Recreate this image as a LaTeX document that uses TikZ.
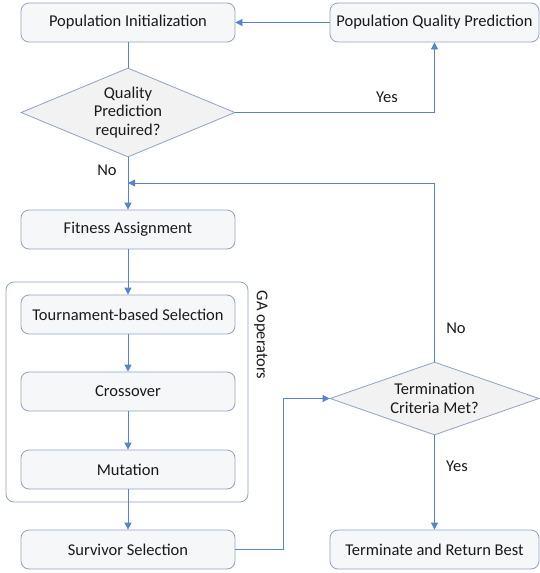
\documentclass[tikz,border=0pt]{standalone}
\usepackage{fontspec}
\setmainfont{Carlito}
\usetikzlibrary{shapes.geometric,arrows.meta}
\definecolor{boxline}{HTML}{8FA2C2}
\definecolor{boxfill}{HTML}{F6F7F9}
\definecolor{diafill}{HTML}{F2F2F3}
\definecolor{arrowc}{HTML}{5583CF}
\definecolor{txt}{HTML}{1A1A1A}
\begin{document}
\begin{tikzpicture}[x=1pt,y=-1pt,
  font=\fontsize{16.5}{18.5}\selectfont, text=txt,
  procbox/.style={draw=boxline, fill=boxfill, line width=0.8pt, rounded corners=8pt,
    minimum width=214pt, minimum height=39pt, inner sep=0pt},
  decide/.style={draw=boxline, fill=diafill, line width=0.8pt, diamond, inner sep=0pt,
    align=center},
  flow/.style={draw=arrowc, line width=0.8pt, -{Triangle[length=7pt,width=7pt]}},
  plain/.style={draw=arrowc, line width=0.8pt},
  lbl/.style={inner sep=0pt}]
\useasboundingbox (0,0) rectangle (540,573);
% group box
\node[draw=boxline, line width=0.8pt, rounded corners=8pt, minimum width=242pt, minimum height=220pt, inner sep=0pt] (ga) at (127,392) {};
\node[lbl, rotate=-90] (galbl) at (261,335) {GA operators};
% nodes
\node[procbox] (init) at (128,22.5) {Population Initialization};
\node[procbox, minimum width=209pt] (pqp) at (434.5,22.5) {Population Quality Prediction};
\node[decide, aspect=2.4, minimum width=214pt, minimum height=89pt] (qp) at (128,112.5) {Quality\\Prediction\\required?};
\node[procbox] (fit) at (128,229.5) {Fitness Assignment};
\node[procbox] (tour) at (128,314.5) {Tournament-based Selection};
\node[procbox] (cross) at (128,391.5) {Crossover};
\node[procbox] (mut) at (128,469.5) {Mutation};
\node[procbox] (surv) at (128,549.5) {Survivor Selection};
\node[decide, aspect=2.88, minimum width=209pt, minimum height=73pt] (term) at (434.5,398.5) {Termination\\Criteria Met?};
\node[procbox, minimum width=209pt] (ret) at (434.5,549.5) {Terminate and Return Best};
\coordinate (merge) at (128,183);
% connectors
\draw[flow] (pqp.west) -- (init.east);
\draw[plain] (init.south) -- (qp.north);
\draw[flow] (qp.east) -| (pqp.south);
\node[lbl] (yes1) at (387,97) {Yes};
\draw[flow] (qp.south) -- (fit.north);
\node[lbl] (no1) at (107,170) {No};
\draw[flow] (term.north) |- (merge);
\node[lbl] (no2) at (456,328) {No};
\draw[flow] (fit.south) -- (tour.north);
\draw[flow] (tour.south) -- (cross.north);
\draw[flow] (cross.south) -- (mut.north);
\draw[flow] (mut.south) -- (surv.north);
\draw[flow] (surv.east) -- ++(48,0) |- (term.west);
\draw[flow] (term.south) -- (ret.north);
\node[lbl] (yes2) at (457,466) {Yes};
\end{tikzpicture}
\end{document}
